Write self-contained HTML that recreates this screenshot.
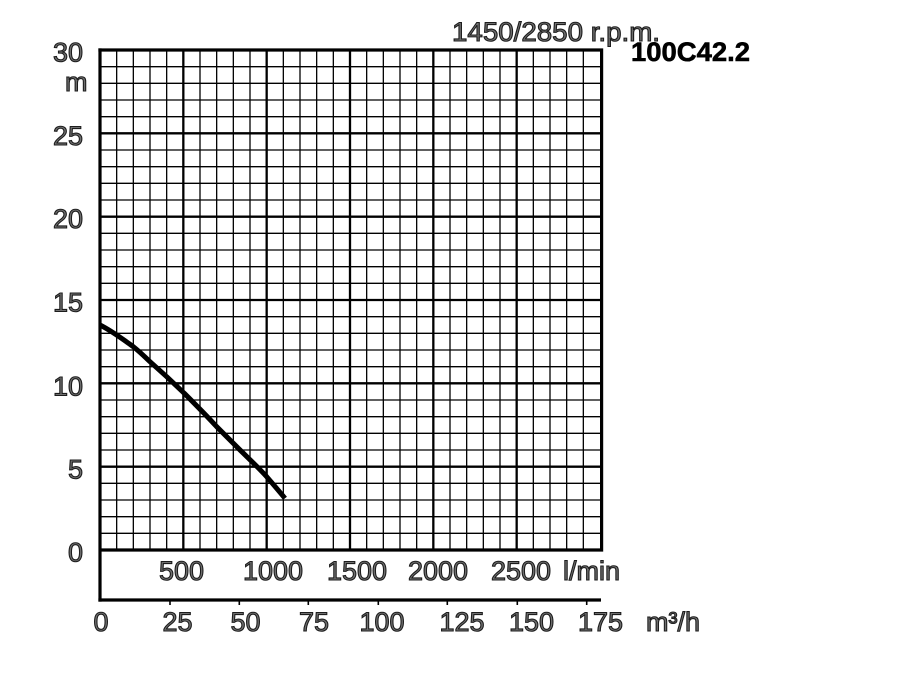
<!DOCTYPE html>
<html><head><meta charset="utf-8"><style>
html,body{margin:0;padding:0;background:#fff;}
svg{display:block;}
text{font-family:"Liberation Sans",sans-serif;font-size:27px;fill:#707070;stroke:#1c1c1c;stroke-width:1.1px;}
</style></head><body>
<svg width="900" height="700" viewBox="0 0 900 700" xmlns="http://www.w3.org/2000/svg">
<rect width="900" height="700" fill="#fff"/>
<g stroke="#000" stroke-width="1.3">
<path d="M116.67 50V550M133.33 50V550M150 50V550M166.67 50V550M200 50V550M216.67 50V550M233.33 50V550M250 50V550M283.33 50V550M300 50V550M316.67 50V550M333.33 50V550M366.67 50V550M383.33 50V550M400 50V550M416.67 50V550M450 50V550M466.67 50V550M483.33 50V550M500 50V550M533.33 50V550M550 50V550M566.67 50V550M583.33 50V550"/>
<path d="M100 66.67H600M100 83.33H600M100 100H600M100 116.67H600M100 150H600M100 166.67H600M100 183.33H600M100 200H600M100 233.33H600M100 250H600M100 266.67H600M100 283.33H600M100 316.67H600M100 333.33H600M100 350H600M100 366.67H600M100 400H600M100 416.67H600M100 433.33H600M100 450H600M100 483.33H600M100 500H600M100 516.67H600M100 533.33H600"/>
</g>
<g stroke="#000" stroke-width="2.3">
<path d="M183.33 50V550M266.67 50V550M350 50V550M433.33 50V550M516.67 50V550"/>
<path d="M100 133.33H600M100 216.67H600M100 300H600M100 383.33H600M100 466.67H600"/>
</g>
<g stroke="#000" stroke-width="3.2" fill="none">
<path d="M100 48.4V601.6"/>
<path d="M98.4 50H601.6V550H100"/>
<path d="M98.4 600H601"/>
</g>
<g stroke="#000" stroke-width="1.6">
<path d="M170 600V605M239.3 600V605M308.3 600V605M378.3 600V605M447.3 600V605M517.3 600V605M586.7 600V605"/>
</g>
<path d="M100 325 C112 331 124 340 133.3 346.7 C140 352 145 357 150 361.7 L166.7 376.7 L184.3 393.3 C195 404 206 415 216.7 426.7 L236.7 446.7 C247 457 257 466 266.7 476.7 C273 484 279 491 285 498.3" stroke="#000" stroke-width="5" fill="none" stroke-linecap="butt" stroke-linejoin="round"/>
<g text-anchor="end">
<text x="83" y="61.5">30</text>
<text x="83" y="144.8">25</text>
<text x="83" y="228">20</text>
<text x="83" y="311.5">15</text>
<text x="83" y="395.5">10</text>
<text x="83" y="478.5">5</text>
<text x="83" y="561.5">0</text>
</g>
<text x="65" y="91">m</text>
<text x="452" y="41" textLength="208" lengthAdjust="spacingAndGlyphs">1450/2850 r.p.m.</text>
<text x="631" y="61" style="font-weight:bold;fill:#000;stroke:#000;stroke-width:0.6px" textLength="119" lengthAdjust="spacingAndGlyphs">100C42.2</text>
<text x="159" y="580">500</text>
<text x="243" y="580">1000</text>
<text x="327" y="580">1500</text>
<text x="408" y="580">2000</text>
<text x="491" y="580">2500</text>
<text x="563" y="580">l/min</text>
<text x="93.5" y="631">0</text>
<text x="162.5" y="631">25</text>
<text x="230.5" y="631">50</text>
<text x="299" y="631">75</text>
<text x="359.5" y="631">100</text>
<text x="439.5" y="631">125</text>
<text x="509" y="631">150</text>
<text x="578" y="631">175</text>
<text x="646" y="631">m³/h</text>
</svg>
</body></html>
